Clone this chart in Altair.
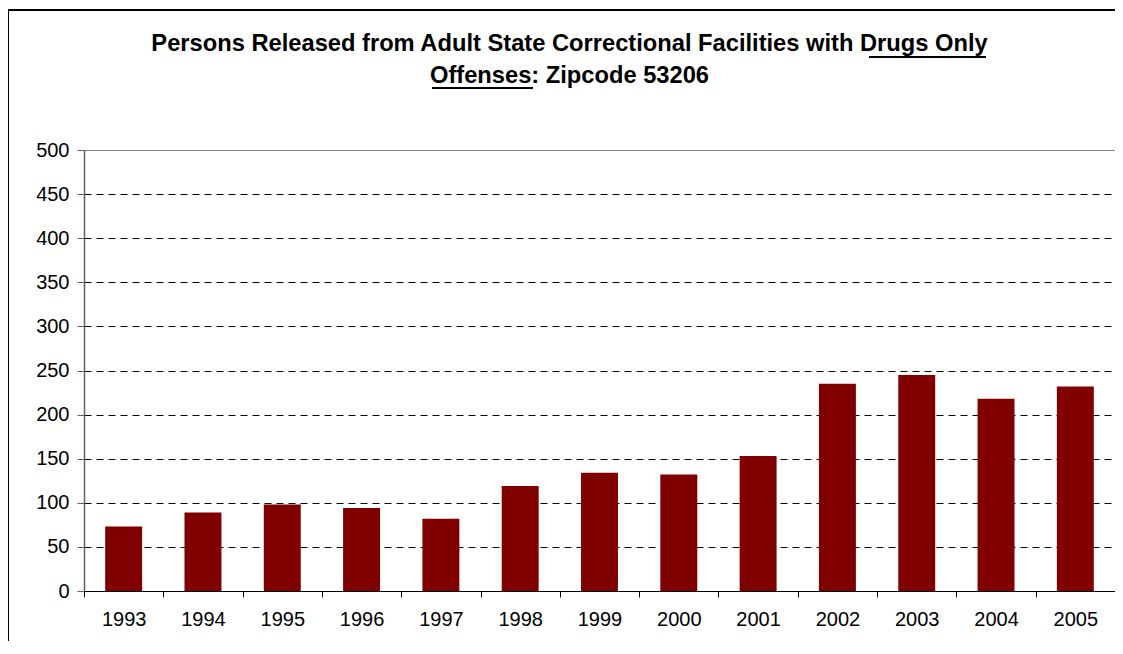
import altair as alt
import pandas as pd

years = ["1993", "1994", "1995", "1996", "1997", "1998", "1999",
         "2000", "2001", "2002", "2003", "2004", "2005"]
released = [73, 89, 98, 94, 82, 119, 134, 132, 153, 235, 245, 218, 232]
y_ticks = [0, 50, 100, 150, 200, 250, 300, 350, 400, 450, 500]
title_lines = ["Persons Released from Adult State Correctional Facilities with Drugs Only",
               "Offenses: Zipcode 53206"]

df = pd.DataFrame({"year": years, "released": released})

FONT = "Liberation Sans"
W, H = 1031, 441

bars = alt.Chart(df).mark_bar(
    color="#800000", width=alt.RelativeBandSize(0.466)
).encode(
    x=alt.X("year:N", sort=years, title=None,
            scale=alt.Scale(paddingInner=0, paddingOuter=0),
            axis=alt.Axis(labelAngle=0, tickBand="extent", tickSize=6,
                          tickColor="#000000", domainColor="#000000",
                          labelFontSize=20, labelPadding=12, labelColor="#000000",
                          grid=False)),
    y=alt.Y("released:Q", title=None,
            scale=alt.Scale(domain=[0, 500], nice=False),
            axis=alt.Axis(values=y_ticks, tickSize=7, tickColor="#606060",
                          domainColor="#606060", domainWidth=1.5,
                          labelFontSize=20, labelPadding=8, labelColor="#000000",
                          grid=True, gridColor="#000000", gridDash=[7, 5],
                          gridOpacity={"condition": {"test": "datum.value >= 500", "value": 0}, "value": 1})),
)

# decorative chart frame (outer border) and title underlines
frame_left = alt.Chart(df).mark_rule(color="#000000", strokeWidth=2).encode(
    x=alt.value(-76), y=alt.value(-140), y2=alt.value(H + 70))
frame_top = alt.Chart(df).mark_rule(color="#000000", strokeWidth=2).encode(
    x=alt.value(-76), x2=alt.value(W + 40), y=alt.value(-140))
ul1 = alt.Chart(df).mark_rule(color="#000000", strokeWidth=2).encode(
    x=alt.value(785), x2=alt.value(902), y=alt.value(-93))
ul2 = alt.Chart(df).mark_rule(color="#000000", strokeWidth=2).encode(
    x=alt.value(348), x2=alt.value(449), y=alt.value(-62))

chart = alt.layer(bars, frame_left, frame_top, ul1, ul2).properties(
    width=W, height=H,
    title=alt.TitleParams(text=title_lines, fontSize=23.7, font=FONT, fontWeight="bold",
                          color="#000000", anchor="middle", dx=-30, dy=141, offset=62,
                          lineHeight=32.5),
    padding={"left": 76, "top": 142, "right": 0, "bottom": 50},
    autosize=alt.AutoSizeParams(type="none"),
).configure(font=FONT).configure_view(
    stroke="#808080", strokeWidth=1
).configure_axis(labelFont=FONT)

chart.save("out.html", embed_options={"renderer": "svg", "actions": False})
